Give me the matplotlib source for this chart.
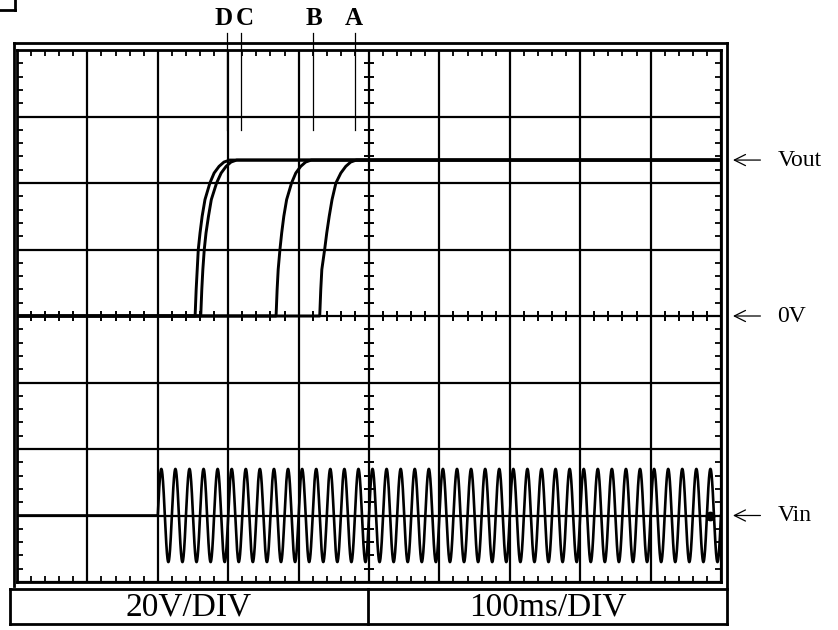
import numpy as np
import matplotlib.pyplot as plt
from matplotlib.lines import Line2D

plt.rcParams['font.family'] = ['Liberation Serif', 'DejaVu Serif']

# time in ms (100 ms/div), voltage in V (20 V/div)
t_max = 1000
v_lim = 80

# Vout rising curves
curve_names = ["D", "C", "B", "A"]
d_t = [0, 253, 254.5, 256, 257.5, 260, 263, 267, 274, 280, 287, 294, 302, 1000]
d_v = [0, 0, 8, 14, 20, 25, 30, 35, 40, 43, 45, 46.3, 46.9, 46.9]
c_t = [0, 261, 262.5, 264, 266, 268.5, 272, 276, 283.5, 290, 297, 304, 312, 1000]
c_v = [0, 0, 8, 14, 20, 25, 30, 35, 40, 43, 45, 46.3, 46.9, 46.9]
b_t = [0, 368, 369.5, 371, 373.5, 376, 379, 383, 390, 396, 403, 410, 418, 1000]
b_v = [0, 0, 8, 14, 20, 25, 30, 35, 40, 43, 45, 46.3, 46.9, 46.9]
a_t = [0, 430, 431.5, 433, 437, 440, 443.5, 447.5, 453, 460, 467, 474, 482, 1000]
a_v = [0, 0, 8, 14, 20, 25, 30, 35, 40, 43, 45, 46.3, 46.9, 46.9]

# marker lines above the screen (time where each curve settles)
marker_t = [299, 318, 420, 480]
marker_label_t = [293, 323, 422, 479]

# Vin: 50 Hz mains switched on at 200 ms, centred on -60 V
vin_level = -60
vin_amp = 14
vin_on = 200
vin_period = 20
vin_dot = (984, -60)

# right hand labels
side_labels = ["Vout", "0V", "Vin"]
side_levels = [46.9, 0, -60]

W, H = 838, 630
fig = plt.figure(figsize=(W / 100, H / 100), dpi=100)

def fx(px):
    return px / W

def fy(py):
    return 1 - py / H

ax = fig.add_axes([fx(17), fy(582), fx(721) - fx(17), fy(50) - fy(582)])
ax.set_xlim(0, t_max)
ax.set_ylim(-v_lim, v_lim)

ax.set_xticks(np.arange(0, t_max + 1, 100))
ax.set_yticks(np.arange(-v_lim, v_lim + 1, 20))
ax.set_xticks(np.arange(0, t_max + 1, 20), minor=True)
ax.set_yticks(np.arange(-v_lim, v_lim + 1, 4), minor=True)
ax.tick_params(which='both', labelbottom=False, labelleft=False, direction='in',
               top=True, right=True)
ax.tick_params(which='major', length=0)
ax.tick_params(which='minor', length=4, width=1.3, color='black')
ax.grid(True, which='major', color='black', lw=1.6)
for sp in ax.spines.values():
    sp.set_linewidth(2.0)

# centre crosshair ticks
cx = np.arange(0, t_max + 1, 20)
cy = np.arange(-v_lim, v_lim + 1, 4)
ax.plot(cx, np.zeros_like(cx), ls='none', marker='|', ms=7, mew=1.4, color='black')
ax.plot(np.full_like(cy, 500), cy, ls='none', marker='_', ms=7, mew=1.4, color='black')

# Vout traces
for tt, vv in [(d_t, d_v), (c_t, c_v), (b_t, b_v), (a_t, a_v)]:
    ax.plot(tt, vv, color='black', lw=2.1, solid_joinstyle='round')

# Vin trace
t_sine = np.linspace(vin_on, t_max, 4000)
vin_t = np.concatenate([[0, vin_on], t_sine])
vin_v = np.concatenate([[vin_level, vin_level],
                        vin_level + vin_amp * np.sin(2 * np.pi * (t_sine - vin_on) / vin_period)])
ax.plot(vin_t, vin_v, color='black', lw=1.9)
ax.plot(*vin_dot, marker='o', ms=6, color='black')

# marker lines and letters above screen
for name, mt, lt in zip(curve_names, marker_t, marker_label_t):
    ax.plot([mt, mt], [56, 85], color='black', lw=0.9, clip_on=False)
    ax.text(lt, 86, name, ha='center', va='bottom', fontsize=18, fontweight='bold',
            clip_on=False)

# arrows + labels on the right
for lab, lev in zip(side_labels, side_levels):
    ax.annotate('', xy=(1017, lev), xytext=(1056, lev), xycoords='data',
                arrowprops=dict(arrowstyle='->', lw=0.9, color='black',
                                mutation_scale=20, shrinkA=0, shrinkB=0),
                annotation_clip=False)
    ax.text(1080, lev, lab, ha='left', va='center', fontsize=17, clip_on=False)

# outer frame and bottom caption box
frame = [((14, 43), (727, 43)), ((14, 43), (14, 586)), ((727, 43), (727, 624)),
         ((10, 589), (727, 589)), ((10, 589), (10, 624)), ((10, 624), (727, 624)),
         ((368, 589), (368, 624)), ((0, 10), (15, 10)), ((15, 0), (15, 10))]
for (x0, y0), (x1, y1) in frame:
    fig.add_artist(Line2D([fx(x0), fx(x1)], [fy(y0), fy(y1)], color='black', lw=2.0))

fig.text(fx(189), fy(607), "20V/DIV", ha='center', va='center', fontsize=24)
fig.text(fx(548), fy(607), "100ms/DIV", ha='center', va='center', fontsize=24)

fig.savefig("out.png", dpi=100)
